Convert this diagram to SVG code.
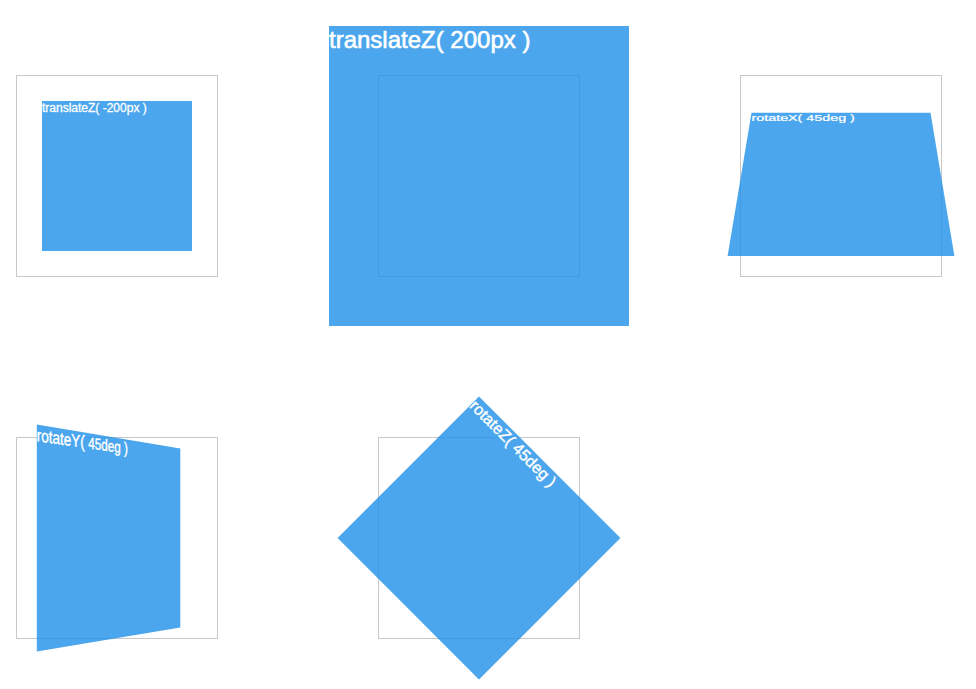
<svg xmlns="http://www.w3.org/2000/svg" width="976" height="689" viewBox="0 0 976 689">
<style>
.frame{fill:none;stroke:#c8c8c8;stroke-width:1}
.card{fill:rgb(30,144,232);fill-opacity:0.8}
.lbl{font-family:"Liberation Sans",Arial,Helvetica,sans-serif;font-size:16px;fill:#ffffff;stroke:#ffffff;stroke-width:0.4}
</style>
<rect width="976" height="689" fill="#ffffff"/>
<g id="node-translateZ-neg">
<rect class="frame" x="16.5" y="75.5" width="201" height="201"/>
<rect class="card" x="42" y="101" width="150" height="150"/>
<text class="lbl" x="42" y="111.9" style="font-size:12px;stroke-width:0.3">translateZ( -200px )</text>
</g>
<g id="node-translateZ-pos">
<rect class="frame" x="378.5" y="75.5" width="201" height="201"/>
<rect class="card" x="329" y="26" width="300" height="300"/>
<text class="lbl" x="329" y="47.8" style="font-size:24px;stroke-width:0.6">translateZ( 200px )</text>
</g>
<g id="node-rotateX">
<rect class="frame" x="740.5" y="75.5" width="201" height="201"/>
<polygon class="card" points="751.5,112.7 930.5,112.7 954.4,256.1 727.6,256.1"/>
<text class="lbl" transform="matrix(0.895 0 0 0.566 751.5 112.7)" x="0" y="15">rotateX( 45deg )</text>
</g>
<g id="node-rotateY">
<rect class="frame" x="16.5" y="437.5" width="201" height="201"/>
<polygon class="card" points="36.8,424.6 180.3,448.5 180.3,627.5 36.8,651.4"/>
<text class="lbl" transform="matrix(0.8445 0.1199 0 1.09 36.84 441.1)" x="0" y="0">rotateY(</text>
<text class="lbl" transform="matrix(0.7315 0.1043 0 1.02 84.89 447.92)" x="4.45" y="0">45deg )</text>
</g>
<g id="node-rotateZ">
<rect class="frame" x="378.5" y="437.5" width="201" height="201"/>
<g transform="rotate(45 479 538)">
<rect class="card" x="379" y="438" width="200" height="200"/>
<text class="lbl" x="379" y="452.5">rotateZ( 45deg )</text>
</g>
</g>
<g id="connectors"/>
</svg>
